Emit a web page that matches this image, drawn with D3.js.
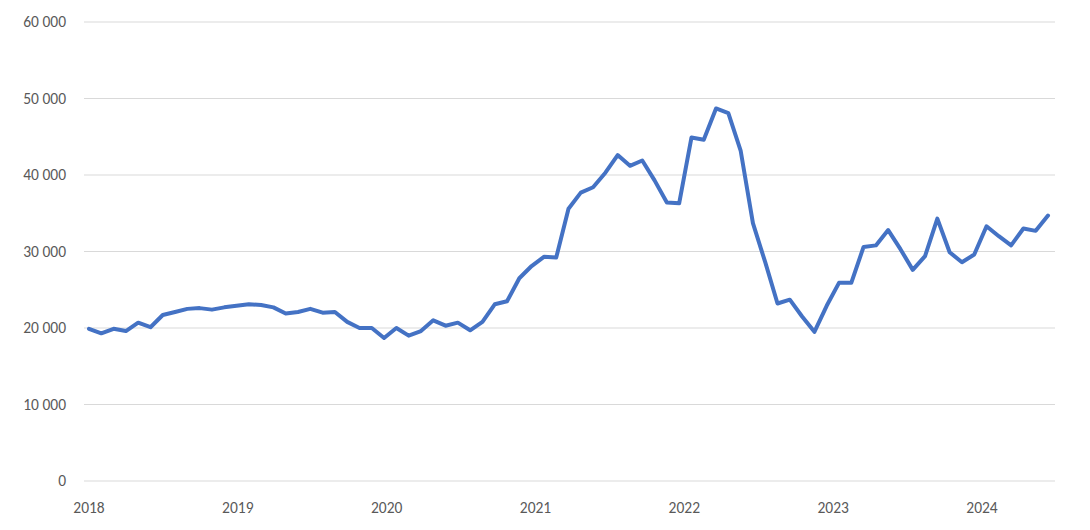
<!DOCTYPE html>
<html>
<head>
<meta charset="utf-8">
<script src="https://cdn.jsdelivr.net/npm/d3@7"></script>
<style>
  body { margin: 0; background: #fff; }
  text { font-family: Carlito, "Liberation Sans", sans-serif; font-size: 15.5px; fill: #595959; }
</style>
</head>
<body>
<svg id="chart" width="1090" height="530"></svg>
<script>
const years = ['2018', '2019', '2020', '2021', '2022', '2023', '2024'];
const yTicks = [0, 10000, 20000, 30000, 40000, 50000, 60000];
// monthly values, Jan 2018 onwards
const values = [
  19900, 19300, 19900, 19600, 20700, 20100, 21700, 22100, 22500, 22600, 22400, 22700,
  22900, 23100, 23000, 22700, 21900, 22100, 22500, 22000, 22100, 20800, 20000, 20000,
  18700, 20000, 19000, 19600, 21000, 20300, 20700, 19700, 20800, 23100, 23500, 26500,
  28100, 29300, 29200, 35600, 37700, 38400, 40300, 42600, 41200, 41900, 39300, 36400,
  36300, 44900, 44600, 48700, 48100, 43200, 33700, 28600, 23200, 23700, 21500, 19500,
  22900, 25900, 25900, 30600, 30800, 32800, 30300, 27600, 29400, 34300, 29900, 28600,
  29600, 33300, 32000, 30800, 33000, 32700, 34700
];

const svg = d3.select('#chart');
const x = d3.scaleLinear().domain([0, values.length - 1]).range([89, 1048]);
const xLabel = d3.scaleLinear().domain([0, 72]).range([89, 982]);
const y = d3.scaleLinear().domain([0, 60000]).range([481, 22]);
const fmt = d => d3.format(',')(d).replace(/,/g, '\u202f');

svg.append('g').selectAll('line').data(yTicks).join('line')
  .attr('x1', 84).attr('x2', 1055)
  .attr('y1', d => y(d)).attr('y2', d => y(d))
  .attr('stroke', '#d9d9d9').attr('stroke-width', 1);

svg.append('g').selectAll('text').data(yTicks).join('text')
  .attr('x', 66).attr('y', d => y(d) + 5)
  .attr('text-anchor', 'end')
  .text(fmt);

svg.append('g').selectAll('text').data(years).join('text')
  .attr('x', (d, i) => xLabel(i * 12)).attr('y', 513)
  .attr('text-anchor', 'middle')
  .text(d => d);

const line = d3.line().x((d, i) => x(i)).y(d => y(d));
svg.append('path').datum(values)
  .attr('d', line)
  .attr('fill', 'none')
  .attr('stroke', '#4472c4')
  .attr('stroke-width', 4)
  .attr('stroke-linejoin', 'round')
  .attr('stroke-linecap', 'round');
</script>
</body>
</html>
